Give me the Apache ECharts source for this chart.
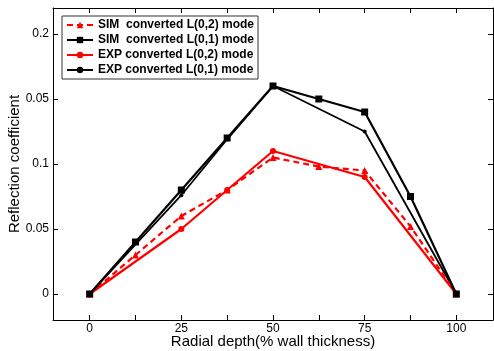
<!DOCTYPE html>
<html><head><meta charset="utf-8">
<script src="https://cdn.jsdelivr.net/npm/echarts@6/dist/echarts.min.js"></script>
<style>html,body{margin:0;padding:0;background:#fff}#c{width:494px;height:351px}</style>
</head><body><div id="c"></div>
<script>
var xValues = [0, 12.5, 25, 37.5, 50, 62.5, 75, 87.5, 100];
var simL02 = [0, 0.03, 0.06, 0.08, 0.105, 0.098, 0.095, 0.052, 0];
var simL01 = [0, 0.04, 0.08, 0.12, 0.16, 0.15, 0.14, 0.075, 0];
var expL02 = [0, null, 0.05, 0.08, 0.11, null, 0.09, null, 0];
var expL01 = [0, null, 0.076, 0.119, 0.16, null, 0.125, null, 0];
var xTickLabels = [0, 25, 50, 75, 100];
var xTicks = [0, 12.5, 25, 37.5, 50, 62.5, 75, 87.5, 100];
var yTickValues = [0, 0.05, 0.1, 0.15, 0.2];
var yTickLabels = ['0', '0.05', '0.1', '0.05', '0.2'];
var seriesNames = ['SIM  converted L(0,2) mode', 'SIM  converted L(0,1) mode', 'EXP converted L(0,2) mode', 'EXP converted L(0,1) mode'];

function pairs(v){ var out=[]; xValues.forEach(function(x,i){ if (v[i] !== null) out.push([x, v[i]]); }); return out; }
var font = 'Liberation Sans, Arial, sans-serif';
var chart = echarts.init(document.getElementById('c'));
var axLine = {show:true, onZero:false, lineStyle:{color:'#000', width:1}};
chart.setOption({
  animation:false,
  grid:{left:53, right:1, top:8, bottom:31, show:false, containLabel:false, outerBoundsMode:'none'},
  legend:{
    orient:'vertical', left:62, top:16, itemGap:3, itemWidth:26, itemHeight:8,
    backgroundColor:'#fff', borderColor:'#333', borderWidth:1, padding:[3,4,3,4],
    textStyle:{fontFamily:font, fontSize:12, color:'#000', fontWeight:'bold'},
    data:seriesNames
  },
  xAxis:[{
    type:'value', min:-10, max:110, position:'bottom',
    axisLine:axLine, splitLine:{show:false},
    axisTick:{show:true, inside:true, length:5, customValues:xTicks, lineStyle:{color:'#000'}},
    axisLabel:{customValues:xTickLabels, color:'#000', fontFamily:font, fontSize:12, margin:3},
    name:'Radial depth(% wall thickness)', nameLocation:'middle', nameGap:14, nameMoveOverlap:false,
    nameTextStyle:{fontFamily:font, fontSize:15, color:'#000'}
  },{
    type:'value', min:-10, max:110, position:'top',
    axisLine:axLine, splitLine:{show:false},
    axisTick:{show:true, inside:true, length:5, customValues:xTicks, lineStyle:{color:'#000'}},
    axisLabel:{show:false}
  }],
  yAxis:[{
    type:'value', min:-0.02, max:0.22, position:'left',
    axisLine:axLine, splitLine:{show:false},
    axisTick:{show:true, inside:true, length:5, customValues:yTickValues, lineStyle:{color:'#000'}},
    axisLabel:{customValues:yTickValues, color:'#000', fontFamily:font, fontSize:12, margin:4,
      formatter:function(v){ var i = yTickValues.findIndex(function(t){return Math.abs(t-v)<1e-9;}); return i>=0 ? yTickLabels[i] : ''; }},
    name:'Reflection coefficient', nameLocation:'middle', nameGap:31, nameMoveOverlap:false,
    nameTextStyle:{fontFamily:font, fontSize:15, color:'#000'}
  },{
    type:'value', min:-0.02, max:0.22, position:'right',
    axisLine:axLine, splitLine:{show:false},
    axisTick:{show:true, inside:true, length:5, customValues:yTickValues, lineStyle:{color:'#000'}},
    axisLabel:{show:false}
  }],
  series:[
    {name:seriesNames[0], type:'line', data:pairs(simL02), symbol:'triangle', symbolSize:7,
     lineStyle:{color:'#ff0000', width:2.2, type:[6,4]}, itemStyle:{color:'#ff0000'}, z:3},
    {name:seriesNames[1], type:'line', data:pairs(simL01), symbol:'rect', symbolSize:7,
     lineStyle:{color:'#000', width:2.2}, itemStyle:{color:'#000'}, z:3},
    {name:seriesNames[2], type:'line', data:pairs(expL02), symbol:'circle', symbolSize:6,
     lineStyle:{color:'#ff0000', width:2.2}, itemStyle:{color:'#ff0000'}, z:2},
    {name:seriesNames[3], type:'line', data:pairs(expL01), symbol:'circle', symbolSize:4,
     lineStyle:{color:'#000', width:1.8}, itemStyle:{color:'#000'}, z:2}
  ]
});
</script></body></html>
